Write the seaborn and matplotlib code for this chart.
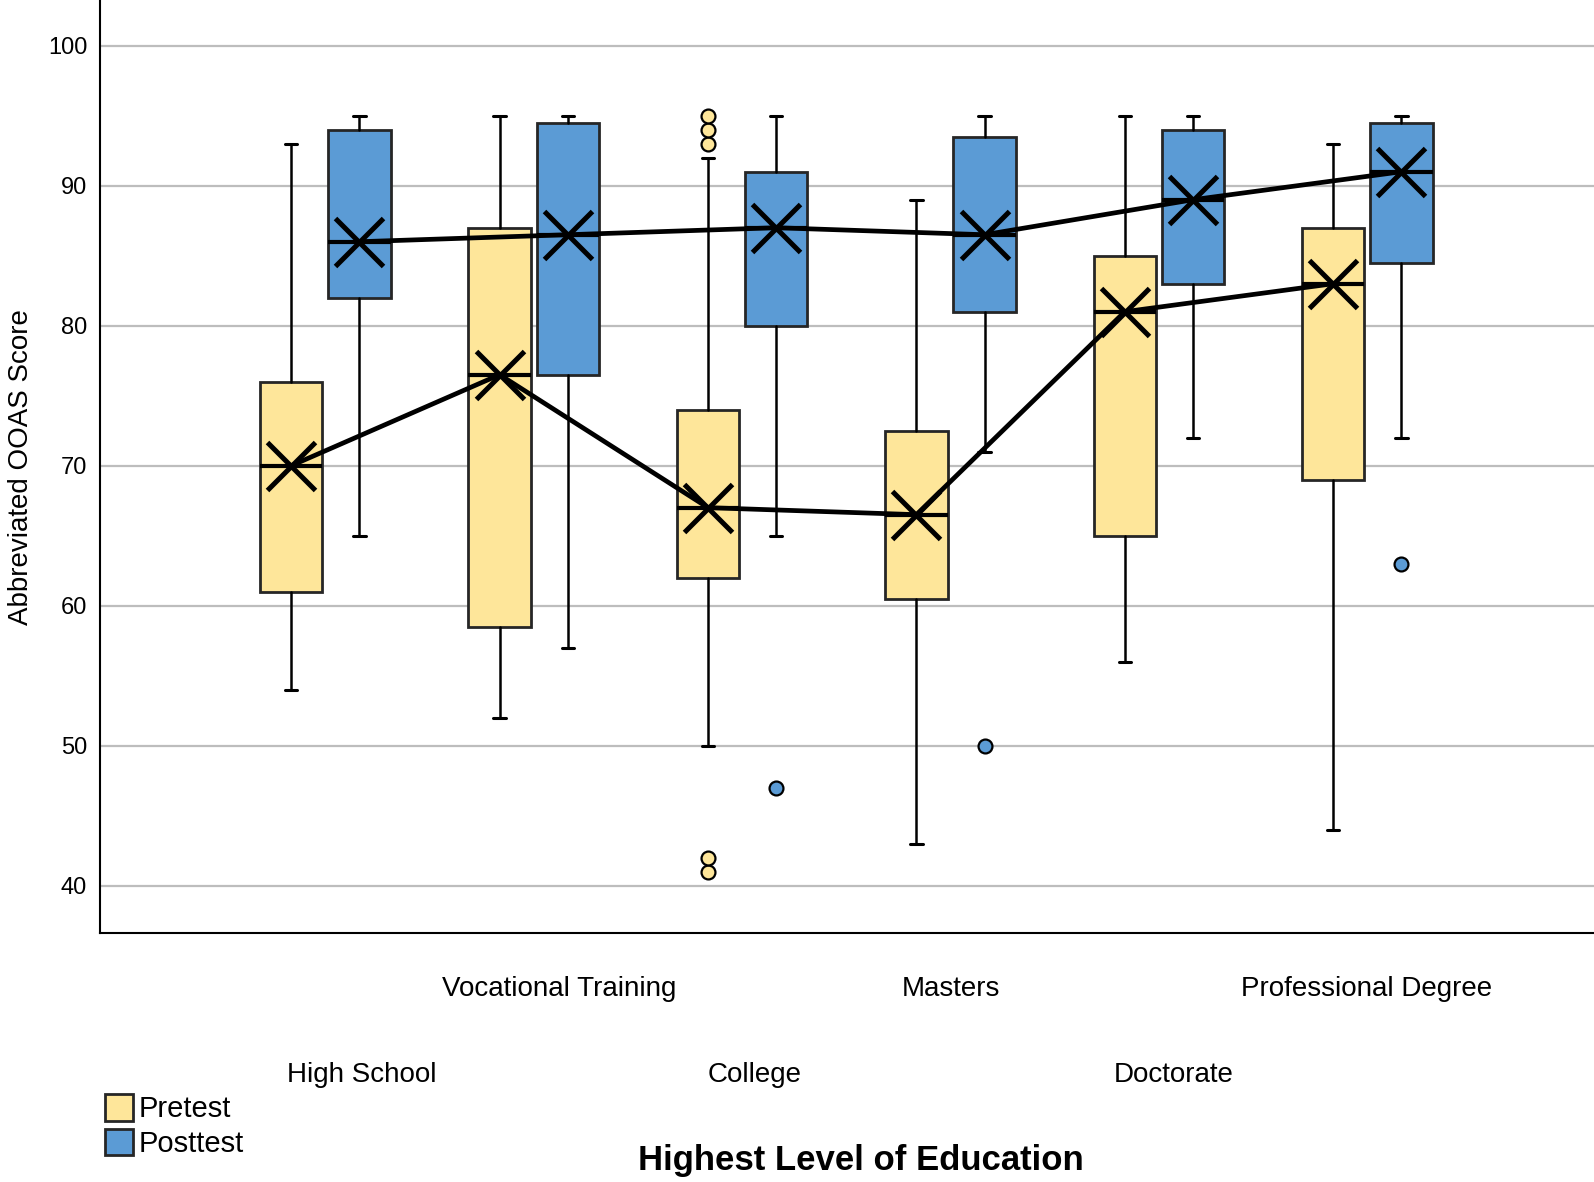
import numpy as np
import pandas as pd
import matplotlib
matplotlib.use("Agg")
import matplotlib.pyplot as plt
import matplotlib.transforms as mtransforms
from matplotlib.patches import Patch
import seaborn as sns

# Data (box summaries per education level)
education = ["High School", "Vocational Training", "College", "Masters", "Doctorate", "Professional Degree"]
tests = ["Pretest", "Posttest"]

pre_whislo = [54, 52, 50, 43, 56, 44]
pre_q1 = [61, 58.5, 62, 60.5, 65, 69]
pre_med = [70, 76.5, 67, 66.5, 81, 83]
pre_q3 = [76, 87, 74, 72.5, 85, 87]
pre_whishi = [93, 95, 92, 89, 95, 93]
pre_fliers = [[], [], [41, 42, 93, 94, 95], [], [], []]
pre_mean = [70, 76.5, 67, 66.5, 81, 83]

post_whislo = [65, 57, 65, 71, 72, 72]
post_q1 = [82, 76.5, 80, 81, 83, 84.5]
post_med = [86, 86.5, 87, 86.5, 89, 91]
post_q3 = [94, 94.5, 91, 93.5, 94, 94.5]
post_whishi = [95, 95, 95, 95, 95, 95]
post_fliers = [[], [], [47], [50], [], [63]]
post_mean = [86, 86.5, 87, 86.5, 89, 91]

PRE_COLOR = "#FEE69A"
POST_COLOR = "#5B9BD5"
EDGE = "#262626"
DODGE = 0.327
BOX_W = 0.30

sns.set_theme(style="white")
plt.rcParams["font.family"] = ["Liberation Sans", "DejaVu Sans"]
plt.rcParams["text.color"] = "black"
plt.rcParams["axes.labelcolor"] = "black"
plt.rcParams["xtick.color"] = "black"
plt.rcParams["ytick.color"] = "black"

fig = plt.figure(figsize=(15.94, 11.82), dpi=100)
ax = fig.add_axes([0.0625, 0.2104, 0.9375, 0.7896])


def make_stats(lo, q1, med, q3, hi, fl):
    return [dict(whislo=a, q1=b, med=c, q3=d, whishi=e, fliers=f)
            for a, b, c, d, e, f in zip(lo, q1, med, q3, hi, fl)]


pos = np.arange(len(education))
groups = [
    (make_stats(pre_whislo, pre_q1, pre_med, pre_q3, pre_whishi, pre_fliers), pos - DODGE / 2, PRE_COLOR),
    (make_stats(post_whislo, post_q1, post_med, post_q3, post_whishi, post_fliers), pos + DODGE / 2, POST_COLOR),
]
for stats, p, color in groups:
    ax.bxp(stats, positions=p, widths=BOX_W, capwidths=0.06, patch_artist=True,
           showfliers=True, manage_ticks=False,
           boxprops=dict(facecolor=color, edgecolor=EDGE, linewidth=2),
           whiskerprops=dict(color="black", linewidth=1.8),
           capprops=dict(color="black", linewidth=2.2),
           medianprops=dict(color="black", linewidth=3),
           flierprops=dict(marker="o", markersize=10, markerfacecolor=color,
                           markeredgecolor="black", markeredgewidth=1.6),
           zorder=2)

# mean markers joined by lines
means_df = pd.DataFrame({
    "Education": education * 2,
    "Test": ["Pretest"] * len(education) + ["Posttest"] * len(education),
    "Score": pre_mean + post_mean,
})
sns.pointplot(data=means_df, x="Education", y="Score", hue="Test", order=education,
              hue_order=tests, dodge=DODGE, palette=["black", "black"], markers="x",
              linestyles="-", errorbar=None, markersize=35, markeredgewidth=3.6,
              linewidth=3.4, legend=False, ax=ax, zorder=4)

ax.set_xlim(-1.083, 6.088)
ax.set_ylim(36.59, 103.27)
ax.set_yticks([40, 50, 60, 70, 80, 90, 100])
ax.yaxis.grid(True, color="#BDBDBD", linewidth=1.6, zorder=0)
ax.xaxis.grid(False)
ax.set_axisbelow(True)
for s in ["top", "right"]:
    ax.spines[s].set_visible(False)
for s in ["left", "bottom"]:
    ax.spines[s].set_color("black")
    ax.spines[s].set_linewidth(1.5)

ax.set_xticks(pos)
ax.set_xticklabels(education, fontsize=20)
ax.tick_params(axis="x", length=0)
ax.tick_params(axis="y", length=0, pad=9, labelsize=17)

# staggered category labels, nudged like the original layout
label_shift = [36, 25, 13, 0, 15, -1]
for i, tick in enumerate(ax.xaxis.get_major_ticks()):
    tick.set_pad(93 if i % 2 == 0 else 31)
for lab, dx in zip(ax.get_xticklabels(), label_shift):
    lab.set_transform(lab.get_transform() + mtransforms.ScaledTranslation(dx / 100, 0, fig.dpi_scale_trans))

ax.set_ylabel("Abbreviated OOAS Score", fontsize=20, labelpad=10)
ax.set_xlabel("Highest Level of Education", fontsize=25, fontweight="bold")
ax.xaxis.set_label_coords(0.5095, -0.2254)

handles = [Patch(facecolor=PRE_COLOR, edgecolor=EDGE, linewidth=2, label="Pretest"),
           Patch(facecolor=POST_COLOR, edgecolor=EDGE, linewidth=2, label="Posttest")]
fig.legend(handles=handles, loc="lower left", bbox_to_anchor=(0.066, 0.02), frameon=False,
           fontsize=21, handlelength=0.95, handleheight=1.0, handletextpad=0.2,
           labelspacing=0.2, borderpad=0, borderaxespad=0)

fig.savefig("out.png", dpi=100)
